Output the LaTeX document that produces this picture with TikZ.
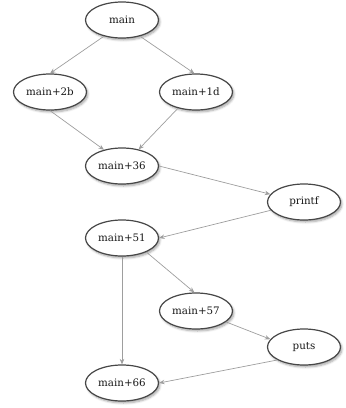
\documentclass[tikz,border=0pt]{standalone}
\usepackage{fontspec}
\setmainfont{DejaVu Serif}
\usetikzlibrary{shapes.geometric,arrows.meta,shadows.blur}
\begin{document}
\begin{tikzpicture}[x=1pt,y=-1pt,
  fn/.style={ellipse,draw=black!72,line width=1.2pt,fill=white,
    minimum width=73pt,minimum height=36pt,inner sep=0pt,
    font=\fontsize{10.3}{12}\selectfont,text=black!90,
    blur shadow={shadow xshift=1.5pt,shadow yshift=-2pt,shadow blur steps=6,shadow opacity=35}},
  flow/.style={draw=black!38,line width=0.7pt,-{Stealth[length=5.5pt,width=4.5pt]}}]
\useasboundingbox (0,0) rectangle (346,408);
\node[fn] (main) at (122,20) {main};
\node[fn] (m2b) at (50,92) {main+2b};
\node[fn] (m1d) at (196,92) {main+1d};
\node[fn] (m36) at (122,166) {main+36};
\node[fn] (printf) at (304,202) {printf};
\node[fn] (m51) at (122,238) {main+51};
\node[fn] (m57) at (196,311) {main+57};
\node[fn] (puts) at (304,347) {puts};
\node[fn] (m66) at (122,383) {main+66};
\draw[flow] (main.222) -- (m2b.north);
\draw[flow] (main.318) -- (m1d.95);
\draw[flow] (m2b.south) -- (m36.138);
\draw[flow] (m1d.222) -- (m36.45);
\draw[flow] (m36.east) -- (printf.167);
\draw[flow] (printf.194) -- (m51.east);
\draw[flow] (m51.south) -- (m66.north);
\draw[flow] (m51.330) -- (m57.95);
\draw[flow] (m57.340) -- (puts.167);
\draw[flow] (puts.206) -- (m66.east);
\end{tikzpicture}
\end{document}
